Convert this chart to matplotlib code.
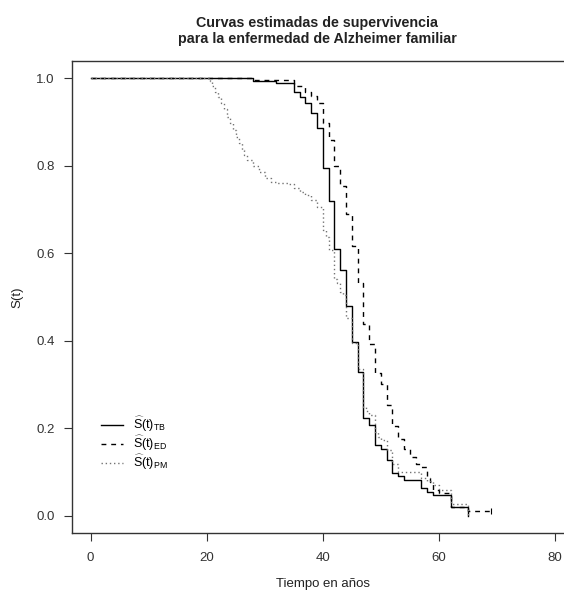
import matplotlib
matplotlib.use("Agg")
import matplotlib.pyplot as plt

plt.rcParams['font.family'] = ['Liberation Sans', 'DejaVu Sans']
plt.rcParams['mathtext.fontset'] = 'custom'
plt.rcParams['mathtext.rm'] = 'Liberation Sans'
plt.rcParams['mathtext.it'] = 'Liberation Sans'
plt.rcParams['mathtext.bf'] = 'Liberation Sans:bold'

# Kaplan-Meier estimates (time in years, S(t))
tb_t = [0, 28, 32, 35, 36, 37, 38, 39, 40, 41, 42, 43, 44, 45, 46, 47, 48,
        49, 50, 51, 52, 53, 54, 57, 58, 59, 62, 65]
tb_s = [1.0, 0.995, 0.990, 0.969, 0.957, 0.943, 0.920, 0.887, 0.795, 0.719,
        0.609, 0.561, 0.479, 0.398, 0.329, 0.222, 0.207, 0.161, 0.152, 0.128,
        0.098, 0.090, 0.081, 0.063, 0.054, 0.046, 0.020, 0.0]

ed_t = [0, 28, 35, 37, 38, 39, 40, 41, 42, 43, 44, 45, 46, 47, 48, 49, 50,
        51, 52, 53, 54, 55, 56, 57, 58, 58.5, 59, 60, 62, 65, 69]
ed_s = [1.0, 0.997, 0.983, 0.969, 0.959, 0.944, 0.899, 0.859, 0.799, 0.754,
        0.690, 0.616, 0.531, 0.438, 0.392, 0.325, 0.302, 0.252, 0.204, 0.174,
        0.152, 0.134, 0.119, 0.111, 0.085, 0.077, 0.058, 0.052, 0.020, 0.011,
        0.011]

pm_t = [0, 20.5, 21, 21.5, 22, 22.5, 23, 23.5, 24, 24.5, 25, 25.5, 26, 26.5,
        27, 28, 29, 30, 31, 32, 34, 35, 36, 37, 38, 39, 40, 40.5, 41, 42,
        42.5, 43, 43.5, 44, 45, 46, 47, 47.5, 48, 49, 49.5, 50, 51, 52, 53,
        57, 58, 59, 60, 62, 65]
pm_s = [1.0, 0.995, 0.983, 0.970, 0.958, 0.945, 0.930, 0.912, 0.898, 0.882,
        0.865, 0.852, 0.836, 0.824, 0.813, 0.800, 0.787, 0.772, 0.763, 0.760,
        0.758, 0.750, 0.740, 0.733, 0.722, 0.706, 0.653, 0.638, 0.607, 0.542,
        0.532, 0.512, 0.504, 0.451, 0.394, 0.336, 0.249, 0.240, 0.230, 0.191,
        0.180, 0.172, 0.149, 0.119, 0.100, 0.085, 0.078, 0.069, 0.058, 0.027,
        0.0]

labels = [r'$\widehat{S}(t)_{TB}$', r'$\widehat{S}(t)_{ED}$', r'$\widehat{S}(t)_{PM}$']

fig = plt.figure(figsize=(5.64, 5.91), dpi=100)
W, H = 564.0, 591.0
ax = fig.add_axes([72 / W, (H - 533) / H, (573.6 - 72) / W, (533 - 61) / H])

ax.plot(tb_t, tb_s, drawstyle='steps-post', color='black', lw=1.0,
        label=labels[0])
ax.plot(ed_t, ed_s, drawstyle='steps-post', color='black', lw=1.0,
        linestyle=(0, (3.5, 3.5)), label=labels[1])
ax.plot(pm_t, pm_s, drawstyle='steps-post', color='0.45', lw=1.0,
        linestyle=(0, (1, 2)), label=labels[2])
ax.plot(ed_t[-1], ed_s[-1], marker='|', color='black', ms=4, mew=0.8)

ax.set_xlim(-3.2, 83.2)
ax.set_ylim(-0.04, 1.04)
ax.set_xticks([0, 20, 40, 60, 80])
ax.set_yticks([0.0, 0.2, 0.4, 0.6, 0.8, 1.0])
ax.set_yticklabels(['0.0', '0.2', '0.4', '0.6', '0.8', '1.0'])
ax.tick_params(direction='out', length=6, width=0.8, labelsize=9.5,
               colors='#333333')
ax.tick_params(axis='x', pad=7.5)
ax.tick_params(axis='y', pad=6.5)
for sp in ax.spines.values():
    sp.set_color('#333333')
    sp.set_linewidth(1.0)

ax.set_xlabel('Tiempo en años', fontsize=9.5, color='#222222', labelpad=10)
ax.set_ylabel('S(t)', fontsize=9.5, color='#222222', labelpad=9)
ax.set_title('Curvas estimadas de supervivencia\npara la enfermedad de Alzheimer familiar',
             fontsize=10.3, fontweight='bold', color='#222222', pad=13,
             x=(317 - 72) / (573.6 - 72))

ax.legend(loc='upper left', bbox_to_anchor=(0.035, 0.2735), frameon=False,
          fontsize=9, handlelength=1.8, handletextpad=0.8, labelspacing=0.0)

fig.savefig('out.png', dpi=100)
